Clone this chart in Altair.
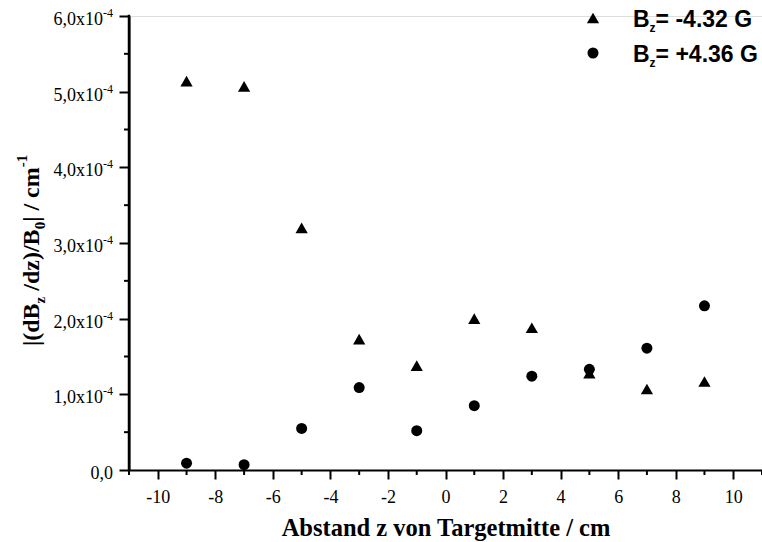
import altair as alt
import pandas as pd

# Measured field gradient along the target axis for two field settings
z_pos = [-9, -7, -5, -3, -1, 1, 3, 5, 7, 9]
grad_neg = [5.14e-4, 5.07e-4, 3.20e-4, 1.73e-4, 1.38e-4, 2.00e-4, 1.88e-4, 1.28e-4, 1.07e-4, 1.17e-4]
grad_pos = [0.09e-4, 0.07e-4, 0.55e-4, 1.09e-4, 0.52e-4, 0.85e-4, 1.24e-4, 1.33e-4, 1.61e-4, 2.17e-4]
series_names = ["neg", "pos"]
series_values = ["-4.32", "+4.36"]

# Axis ticks and labels
x_major = [-10, -8, -6, -4, -2, 0, 2, 4, 6, 8, 10]
x_minor = [-11, -9, -7, -5, -3, -1, 1, 3, 5, 7, 9, 11]
y_major = [0, 1e-4, 2e-4, 3e-4, 4e-4, 5e-4, 6e-4]
y_minor = [0.5e-4, 1.5e-4, 2.5e-4, 3.5e-4, 4.5e-4, 5.5e-4]
y_mantissa = ["0,0", "1,0x10", "2,0x10", "3,0x10", "4,0x10", "5,0x10", "6,0x10"]
y_exponent = ["", "-4", "-4", "-4", "-4", "-4", "-4"]
x_range = [-11, 11]
y_range = [0, 6e-4]

W, H = 633, 454
SERIF = "Liberation Serif"
SANS = "Liberation Sans"

xscale = alt.Scale(domain=x_range, nice=False, zero=False)
yscale = alt.Scale(domain=y_range, nice=False, zero=False)

# font advance widths (per 1000 em) for composing sub/superscript text
TIMES_B = {' ': 250, '(': 333, ')': 333, '-': 333, '/': 278, '|': 220,
           '0': 500, '1': 500, 'B': 667, 'c': 444, 'd': 556, 'm': 833, 'z': 444}
ARIAL_B = {' ': 278, '+': 584, '-': 333, '.': 278, '=': 584, 'B': 722,
           'G': 778, 'z': 500}
for d in "0123456789":
    ARIAL_B[d] = 556


def text_width(s, table, size):
    return sum(table[c] for c in s) * size / 1000.0


def compose(parts, table, main_size, small_size, sub_shift, sup_shift):
    """Return (text, offset_along, shift_across, size) for each run of text."""
    out = []
    pos = 0.0
    for s, kind in parts:
        size = main_size if kind == "main" else small_size
        lead = len(s) - len(s.lstrip(" "))
        stripped = s.strip(" ")
        start = pos + lead * table[' '] * size / 1000.0
        shift = {"main": 0, "sub": sub_shift, "sup": sup_shift}[kind]
        out.append((stripped, start, shift, size))
        pos += text_width(s, table, size)
    return out


one = pd.DataFrame({"k": [0]})

df = pd.DataFrame({
    "z": z_pos * 2,
    "grad": grad_neg + grad_pos,
    "series": [series_names[0]] * len(z_pos) + [series_names[1]] * len(z_pos),
})

points = alt.Chart(df).mark_point(filled=True, opacity=1, color="black", strokeWidth=0).encode(
    x=alt.X("z:Q", scale=xscale, axis=alt.Axis(
        orient="bottom",
        values=x_major, labelExpr="'' + datum.value", grid=False,
        domain=True, domainColor="black", domainWidth=2,
        ticks=True, tickColor="black", tickWidth=2, tickSize=9,
        labelFont=SERIF, labelFontSize=18, labelColor="black",
        labelBaseline="alphabetic", labelPadding=23, labelFlush=False,
        title="Abstand z von Targetmitte / cm", titleFont=SERIF, titleFontSize=24.5,
        titleFontWeight="bold", titleColor="black", titleBaseline="alphabetic",
        titleY=65)),
    y=alt.Y("grad:Q", scale=yscale, axis=alt.Axis(
        orient="left",
        values=y_major, labels=False, grid=False, title=None,
        domain=True, domainColor="black", domainWidth=2,
        ticks=True, tickColor="black", tickWidth=2, tickSize=10)),
    shape=alt.Shape("series:N", scale=alt.Scale(domain=series_names, range=["triangle-up", "circle"]), legend=None),
    size=alt.Size("series:N", scale=alt.Scale(domain=series_names, range=[150, 121]), legend=None),
)

# left axis line, drawn as a connected path between the two ends of the y range
yline = alt.Chart(pd.DataFrame({"xl": [x_range[0], x_range[0]], "yl": y_range})).mark_line(
    color="black", strokeWidth=2.5, strokeCap="square"
).encode(
    x=alt.X("xl:Q", scale=xscale, axis=None),
    y=alt.Y("yl:Q", scale=yscale, axis=None),
)

# minor ticks
xm = alt.Chart(pd.DataFrame({"v": x_minor})).mark_rule(color="black", strokeWidth=2).encode(
    x=alt.X("v:Q", scale=xscale, axis=None),
    y=alt.value(H), y2=alt.value(H + 5),
)
ym = alt.Chart(pd.DataFrame({"v": y_minor})).mark_rule(color="black", strokeWidth=2).encode(
    y=alt.Y("v:Q", scale=yscale, axis=None),
    x=alt.value(0), x2=alt.value(-5),
)

# y tick labels: mantissa plus superscript exponent
ylab = pd.DataFrame({"v": y_major, "m": y_mantissa, "e": y_exponent,
                     "mx": [-16 if e == "" else -26 for e in y_exponent]})
ylab_main = alt.Chart(ylab).mark_text(
    font=SERIF, fontSize=18, color="black", align="right", baseline="alphabetic", dy=9
).encode(
    y=alt.Y("v:Q", scale=yscale, axis=None),
    x=alt.X("mx:Q", scale=None, axis=None),
    text="m:N",
)
ylab_exp = alt.Chart(ylab).mark_text(
    font=SERIF, fontSize=12, color="black", align="right", baseline="alphabetic", dy=1
).encode(
    y=alt.Y("v:Q", scale=yscale, axis=None),
    x=alt.value(-16),
    text="e:N",
)

layers = [points, xm, ym, ylab_main, ylab_exp]

# rotated y title with subscripts and superscript
ytitle_parts = [("|(dB", "main"), ("z", "sub"), (" /dz)/B", "main"), ("0", "sub"),
                ("| / cm", "main"), ("-1", "sup")]
y0 = 330
base_x = -90
for txt, off, shift, size in compose(ytitle_parts, TIMES_B, 24, 15, 6, -12):
    layers.append(
        alt.Chart(one).mark_text(
            text=txt, font=SERIF, fontWeight="bold", fontSize=size, color="black",
            angle=270, align="left", baseline="alphabetic"
        ).encode(x=alt.value(base_x + shift), y=alt.value(y0 - off))
    )

# legend
leg_x_sym = 464
leg_x_txt = 504
leg_rows = [(2, 11, "triangle-up", 150), (37, 46, "circle", 121)]
for (sym_y, base_y, shape, sz), val in zip(leg_rows, series_values):
    layers.append(
        alt.Chart(one).mark_point(filled=True, opacity=1, color="black", strokeWidth=0,
                                  shape=shape, size=sz)
        .encode(x=alt.value(leg_x_sym), y=alt.value(sym_y))
    )
    parts = [("B", "main"), ("z", "sub"), ("= " + val + " G", "main")]
    for txt, off, shift, size in compose(parts, ARIAL_B, 23, 12, 5, -8):
        layers.append(
            alt.Chart(one).mark_text(
                text=txt, font=SANS, fontWeight="bold", fontSize=size, color="black",
                align="left", baseline="alphabetic"
            ).encode(x=alt.value(leg_x_txt + off), y=alt.value(base_y + shift))
        )

layers.append(yline)

chart = alt.layer(*layers).resolve_axis(x="independent", y="independent").properties(
    width=W, height=H,
    autosize=alt.AutoSizeParams(type="none"),
    padding={"left": 129, "top": 16, "right": 0, "bottom": 72},
).configure_view(stroke=None).configure(background="white")

chart.save("out.html", embed_options={"renderer": "svg", "actions": False})
